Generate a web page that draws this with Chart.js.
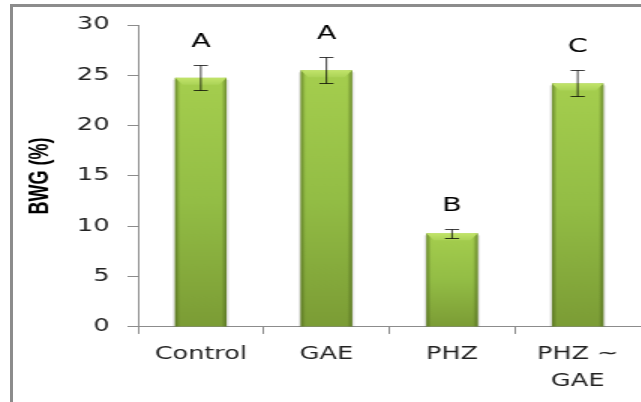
<!DOCTYPE html>
<html>
<head>
<meta charset="utf-8">
<script src="https://cdn.jsdelivr.net/npm/chart.js@4"></script>
<style>
  html, body { margin: 0; padding: 0; background: #fff; overflow: hidden; }
  #marco { position: absolute; left: 10px; top: 4px; width: 640px; height: 400px;
           border-left: 3px solid #8c8c8c; border-top: 3px solid #8c8c8c; }
  /* la figura original está estirada en horizontal */
  #envoltura { position: absolute; left: 0; top: 0; width: 427px; height: 402px;
               transform: scaleX(1.5); transform-origin: 0 0; }
</style>
</head>
<body>
<div id="marco"></div>
<div id="envoltura"><canvas id="lienzo" width="427" height="402"></canvas></div>
<script>
// Datos del gráfico
const grupos = [['Control'], ['GAE'], ['PHZ'], ['PHZ ~', 'GAE']];
const bwg = [24.75, 25.5, 9.3, 24.2];
const errores = [1.25, 1.3, 0.45, 1.3];
const letras = ['A', 'A', 'B', 'C'];
const ticksY = [0, 5, 10, 15, 20, 25, 30];

// Barras con degradado (estilo Excel) + barras de error + letras
const barrasDegradado = {
  id: 'barrasDegradado',
  afterDatasetsDraw(chart) {
    const c = chart.ctx;
    const y = chart.scales.y;
    chart.getDatasetMeta(0).data.forEach((barra, i) => {
      const w = barra.width;
      const x0 = barra.x - w / 2;
      const x1 = barra.x + w / 2;
      const top = barra.y, base = barra.base;

      // sombra lateral
      c.fillStyle = 'rgba(0,0,0,0.10)';
      c.fillRect(x0 - 1.5, top + 2, w + 3, base - top - 2);

      // degradado vertical
      const gv = c.createLinearGradient(0, top, 0, base);
      gv.addColorStop(0, '#a5ce4e');
      gv.addColorStop(0.5, '#93bd45');
      gv.addColorStop(1, '#7b9c35');
      c.fillStyle = gv;
      c.fillRect(x0, top, w, base - top);

      // bordes más oscuros
      const gh = c.createLinearGradient(x0, 0, x1, 0);
      gh.addColorStop(0, 'rgba(70,95,25,0.6)');
      gh.addColorStop(0.1, 'rgba(70,95,25,0)');
      gh.addColorStop(0.9, 'rgba(70,95,25,0)');
      gh.addColorStop(1, 'rgba(70,95,25,0.6)');
      c.fillStyle = gh;
      c.fillRect(x0, top, w, base - top);

      // bisel superior
      const gb = c.createLinearGradient(0, top, 0, top + 7);
      gb.addColorStop(0, '#c2e46a');
      gb.addColorStop(1, '#abd357');
      c.fillStyle = gb;
      c.beginPath();
      c.moveTo(x0, top);
      c.lineTo(x1, top);
      c.lineTo(x1 - 5, top + 7);
      c.lineTo(x0 + 5, top + 7);
      c.closePath();
      c.fill();

      // barra de error
      const yAlto = Math.round(y.getPixelForValue(bwg[i] + errores[i])) + 0.5;
      const yBajo = Math.round(y.getPixelForValue(bwg[i] - errores[i])) + 0.5;
      c.strokeStyle = '#000';
      c.lineWidth = 0.75;
      c.beginPath();
      c.moveTo(barra.x, yAlto);
      c.lineTo(barra.x, yBajo);
      c.moveTo(barra.x - 4.7, yAlto);
      c.lineTo(barra.x + 4.7, yAlto);
      c.moveTo(barra.x - 4.7, yBajo);
      c.lineTo(barra.x + 4.7, yBajo);
      c.stroke();

      // letra de significancia
      c.fillStyle = '#000';
      c.font = '19px "DejaVu Sans"';
      c.textAlign = 'center';
      c.textBaseline = 'middle';
      c.fillText(letras[i], barra.x, yAlto - 23);
    });
  }
};

const ctx = document.getElementById('lienzo').getContext('2d');
new Chart(ctx, {
  type: 'bar',
  data: {
    labels: grupos,
    datasets: [{
      data: bwg,
      backgroundColor: 'rgba(0,0,0,0)',
      barPercentage: 0.41,
      categoryPercentage: 1
    }]
  },
  options: {
    responsive: false,
    animation: false,
    layout: { padding: { left: 0, right: 0, top: 25, bottom: 0 } },
    plugins: { legend: { display: false }, tooltip: { enabled: false } },
    scales: {
      x: {
        grid: { display: true, drawOnChartArea: false, offset: true, color: '#8c8c8c', tickLength: 7 },
        border: { color: '#8c8c8c', width: 1 },
        ticks: { color: '#222', font: { family: 'DejaVu Sans', size: 17, lineHeight: 1.59 }, padding: 7, maxRotation: 0 }
      },
      y: {
        min: 0, max: 30,
        afterBuildTicks: (s) => { s.ticks = ticksY.map(v => ({ value: v })); },
        grid: { display: true, drawOnChartArea: false, color: '#8c8c8c', tickLength: 7 },
        border: { color: '#8c8c8c', width: 1 },
        ticks: { color: '#222', font: { family: 'DejaVu Sans', size: 17 }, padding: 12 },
        title: {
          display: true, text: 'BWG (%)', color: '#000',
          font: { family: 'Liberation Sans', size: 18, weight: 'bold' },
          padding: { top: 16, bottom: 0 }
        },
        afterFit: (s) => { s.width = 92; }
      }
    }
  },
  plugins: [barrasDegradado]
});
</script>
</body>
</html>
